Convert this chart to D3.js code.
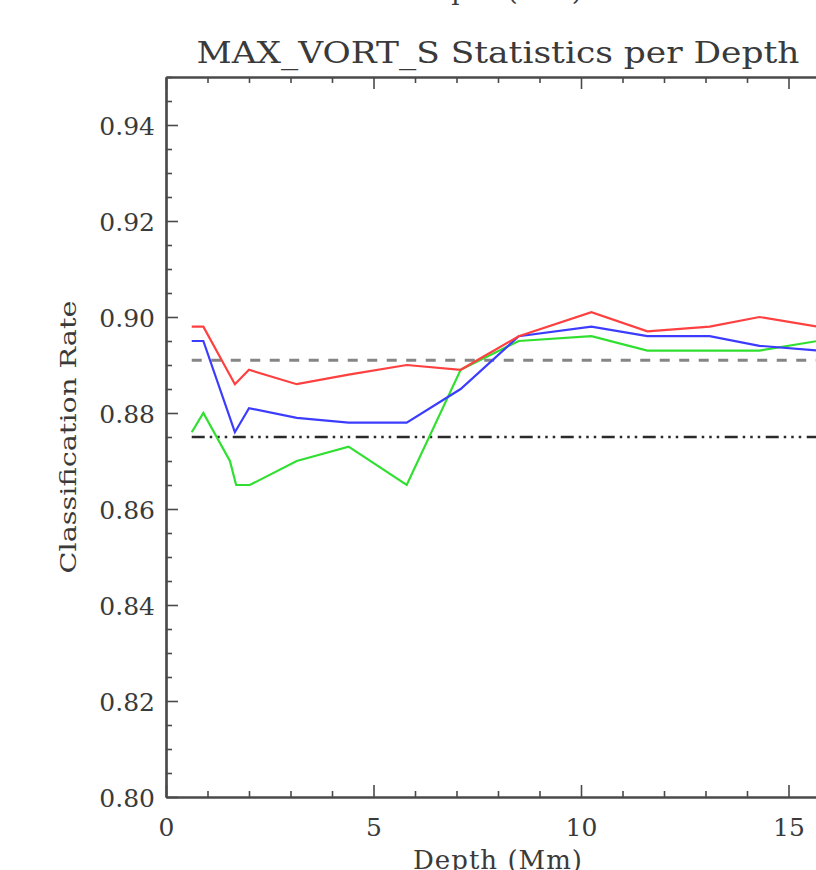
<!DOCTYPE html>
<html>
<head>
<meta charset="utf-8">
<script src="https://cdn.jsdelivr.net/npm/d3@7"></script>
<style>
	body { margin: 0; background: #fff; }
	svg { display: block; }
</style>
</head>
<body>
<div id="visual"></div>
<script>

///// DATA /////
var depths = [0.62, 0.9, 1.66, 2.0, 3.15, 4.4, 5.8, 7.1, 8.5, 10.25, 11.6, 13.1, 14.3, 15.7];
var redRate = [0.898, 0.898, 0.886, 0.889, 0.886, 0.888, 0.890, 0.889, 0.896, 0.901, 0.897, 0.898, 0.900, 0.898];
var blueRate = [0.895, 0.895, 0.876, 0.881, 0.879, 0.878, 0.878, 0.885, 0.896, 0.898, 0.896, 0.896, 0.894, 0.893];

var greenDepths = [0.62, 0.9, 1.54, 1.69, 2.02, 3.15, 4.4, 5.8, 7.1, 8.5, 10.25, 11.6, 13.1, 14.3, 15.7];
var greenRate = [0.876, 0.880, 0.870, 0.865, 0.865, 0.870, 0.873, 0.865, 0.889, 0.895, 0.896, 0.893, 0.893, 0.893, 0.895];

var dashedRate = 0.891;   // grey dashed reference
var dashDotRate = 0.875;  // black dash-dot-dot-dot reference

var xMajor = [0, 5, 10, 15];
var yMajor = [0.80, 0.82, 0.84, 0.86, 0.88, 0.90, 0.92, 0.94];

var titleText = "MAX_VORT_S Statistics per Depth";
var xLabel = "Depth (Mm)";
var yLabel = "Classification Rate";

///// DIMENSIONS /////
var W = 816, H = 870;
var plot = { left: 166, right: 830, top: 77, bottom: 797 };
var font = "'DejaVu Serif', serif";
var axisColor = "#4a4a4a";
var textColor = "#3a3a3a";

var xScale = d3.scaleLinear().domain([0, 16]).range([plot.left, plot.right]);
var yScale = d3.scaleLinear().domain([0.80, 0.95]).range([plot.bottom, plot.top]);

var xMinor = d3.range(0, 17).filter(d => d % 5 !== 0);
var yMinor = d3.range(0, 31).filter(i => i % 4 !== 0).map(i => 0.80 + i * 0.005);

var svg = d3.select("#visual").append("svg")
	.attr("width", W)
	.attr("height", H)
	.style("background", "#fff");

///// TEXT /////
// x label of the panel above, mostly cut off (as in the original)
svg.append("text")
	.attr("x", 497.5).attr("y", 0)
	.attr("text-anchor", "middle")
	.attr("textLength", 169)
	.style("font-family", font).style("font-size", "26px")
	.style("fill", textColor)
	.text(xLabel);

svg.append("text")
	.attr("x", 498).attr("y", 63)
	.attr("text-anchor", "middle")
	.attr("textLength", 603)
	.attr("lengthAdjust", "spacingAndGlyphs")
	.style("font-family", font).style("font-size", "30px")
	.style("fill", textColor)
	.text(titleText);

svg.append("text")
	.attr("x", 497.5).attr("y", 869)
	.attr("text-anchor", "middle")
	.attr("textLength", 169)
	.style("font-family", font).style("font-size", "26px")
	.style("fill", textColor)
	.text(xLabel);

svg.append("text")
	.attr("transform", "translate(76,437) rotate(-90)")
	.attr("text-anchor", "middle")
	.attr("textLength", 273)
	.attr("lengthAdjust", "spacingAndGlyphs")
	.style("font-family", font).style("font-size", "22px")
	.style("fill", textColor)
	.text(yLabel);

///// AXES /////
function styleAxis(g) {
	g.selectAll("path.domain").attr("stroke", axisColor).attr("stroke-width", 2.2);
	g.selectAll(".tick line").attr("stroke", axisColor).attr("stroke-width", 1.6);
	g.selectAll(".tick text")
		.style("font-family", font).style("font-size", "25px")
		.attr("fill", textColor);
}

// left
svg.append("g").attr("transform", `translate(${plot.left},0)`)
	.call(d3.axisLeft(yScale).tickValues(yMinor).tickSize(-6).tickSizeOuter(0).tickFormat(""))
	.call(styleAxis);
svg.append("g").attr("transform", `translate(${plot.left},0)`)
	.call(d3.axisLeft(yScale).tickValues(yMajor).tickSize(-12).tickSizeOuter(0)
		.tickPadding(11).tickFormat(d3.format(".2f")))
	.call(styleAxis)
	.selectAll(".tick text").attr("dy", "0.36em");

// bottom
svg.append("g").attr("transform", `translate(0,${plot.bottom})`)
	.call(d3.axisBottom(xScale).tickValues(xMinor).tickSize(-6).tickSizeOuter(0).tickFormat(""))
	.call(styleAxis);
svg.append("g").attr("transform", `translate(0,${plot.bottom})`)
	.call(d3.axisBottom(xScale).tickValues(xMajor).tickSize(-12).tickSizeOuter(0).tickPadding(21))
	.call(styleAxis);

// top
svg.append("g").attr("transform", `translate(0,${plot.top})`)
	.call(d3.axisTop(xScale).tickValues(xMinor).tickSize(-6).tickSizeOuter(0).tickFormat(""))
	.call(styleAxis);
svg.append("g").attr("transform", `translate(0,${plot.top})`)
	.call(d3.axisTop(xScale).tickValues(xMajor).tickSize(-12).tickSizeOuter(0).tickFormat(""))
	.call(styleAxis);

///// LINES /////
var line = d3.line().x(d => xScale(d[0])).y(d => yScale(d[1]));

svg.append("path")
	.datum(depths.map(d => [d, dashedRate]))
	.attr("d", line)
	.attr("fill", "none").attr("stroke", "#858585").attr("stroke-width", 3)
	.attr("stroke-dasharray", "10,9.5");

svg.append("path")
	.datum(depths.map(d => [d, dashDotRate]))
	.attr("d", line)
	.attr("fill", "none").attr("stroke", "#2a2a2a").attr("stroke-width", 2.5)
	.attr("stroke-dasharray", "13,5,2.5,5,2.5,5,2.5,5.5");

var series = [
	{ xs: greenDepths, ys: greenRate, color: "#30e030" },
	{ xs: depths, ys: blueRate, color: "#3c3cff" },
	{ xs: depths, ys: redRate, color: "#ff4040" }
];

svg.selectAll(".series")
	.data(series).enter().append("path")
	.attr("class", "series")
	.attr("d", s => line(s.xs.map((d, i) => [d, s.ys[i]])))
	.attr("fill", "none")
	.attr("stroke", s => s.color)
	.attr("stroke-width", 2.2)
	.attr("stroke-linejoin", "miter");

</script>
</body>
</html>
